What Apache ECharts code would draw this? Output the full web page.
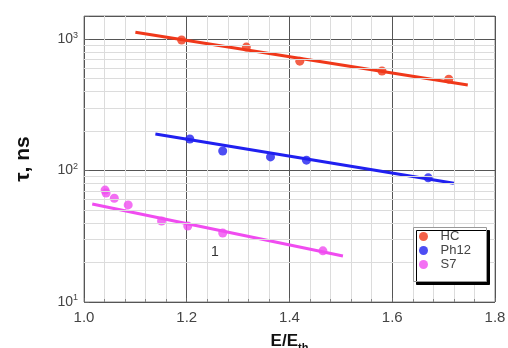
<!DOCTYPE html>
<html>
<head>
<meta charset="utf-8">
<script src="https://cdn.jsdelivr.net/npm/echarts@6/dist/echarts.min.js"></script>
<style>
  html, body { margin: 0; padding: 0; background: #fff; }
  #chart { width: 508px; height: 348px; }
</style>
</head>
<body>
<div id="chart"></div>
<script>
// measured points, E/Eth vs tau (ns)
const hcX = [1.19, 1.316, 1.42, 1.58, 1.71]
const hcY = [985, 870, 680, 572, 496]
const ph12X = [1.206, 1.27, 1.363, 1.433, 1.67]
const ph12Y = [174, 141, 127, 120, 88]
const s7X = [1.041, 1.043, 1.059, 1.086, 1.151, 1.202, 1.27, 1.465]
const s7Y = [71, 67.5, 61.6, 54.8, 41.3, 37.8, 33.5, 24.5]

// fitted lines (end points)
const hcFitX = [1.10, 1.747]
const hcFitY = [1130, 447]
const ph12FitX = [1.139, 1.72]
const ph12FitY = [190, 80]
const s7FitX = [1.016, 1.504]
const s7FitY = [55.6, 22.4]

const xTicks = [1.0, 1.2, 1.4, 1.6, 1.8]
const yDecades = [10, 100, 1000]
const yMinor = [20, 30, 40, 50, 60, 70, 80, 90, 200, 300, 400, 500, 600, 700, 800, 900]

const colors = ['#f0381a', '#2020f0', '#f04cf0']
const names = ['HC', 'Ph12', 'S7']

const pairs = (xs, ys) => xs.map((x, i) => [x, ys[i]])

const pts = [pairs(hcX, hcY), pairs(ph12X, ph12Y), pairs(s7X, s7Y)]
const fits = [pairs(hcFitX, hcFitY), pairs(ph12FitX, ph12FitY), pairs(s7FitX, s7FitY)]

const series = []
// minor log grid lines
series.push({
  type: 'line',
  data: [],
  silent: true,
  markLine: {
    silent: true,
    symbol: 'none',
    label: { show: false },
    lineStyle: { color: '#dcdcdc', type: 'solid', width: 1 },
    data: yMinor.map(v => ({ yAxis: v }))
  },
  z: 1
})
fits.forEach((d, i) => {
  series.push({
    name: names[i] + ' fit',
    type: 'line',
    data: d,
    showSymbol: false,
    lineStyle: { color: colors[i], width: 3 },
    z: 3
  })
})
pts.forEach((d, i) => {
  series.push({
    name: names[i],
    type: 'scatter',
    data: d,
    symbolSize: 9,
    itemStyle: { color: colors[i] },
    z: 4
  })
})

const option = {
  animation: false,
  textStyle: { fontFamily: 'Liberation Sans, Arial, sans-serif' },
  grid: {
    left: 84, right: 13, top: 16, bottom: 46,
    outerBoundsMode: 'none',
    show: true,
    borderColor: '#8a8a8a',
    borderWidth: 1
  },
  legend: {
    data: names,
    orient: 'vertical',
    left: 419,
    top: 230,
    padding: 0,
    itemWidth: 24,
    itemHeight: 9,
    itemGap: 1,
    icon: 'circle',
    z: 20,
    textStyle: { fontSize: 13, color: '#444' }
  },
  xAxis: {
    type: 'value',
    min: 1.0,
    max: 1.8,
    interval: 0.2,
    name: '{a|E/E}{sub|th}',
    nameLocation: 'middle',
    nameGap: 28,
    nameTextStyle: {
      rich: {
        a: { fontSize: 17, fontWeight: 'bold', color: '#111' },
        sub: { fontSize: 11, fontWeight: 'bold', color: '#111', padding: [12, 0, 0, 0] }
      }
    },
    axisLine: { show: false },
    axisTick: { show: true, inside: true, length: 4, lineStyle: { color: '#666' } },
    minorTick: { show: true, splitNumber: 5, length: 3, lineStyle: { color: '#888' } },
    axisLabel: {
      fontSize: 15, color: '#444', margin: 8,
      formatter: v => xTicks.some(t => Math.abs(t - v) < 1e-6) ? v.toFixed(1) : ''
    },
    splitLine: { show: true, lineStyle: { color: '#555', width: 1 } },
    minorSplitLine: { show: true, lineStyle: { color: '#dcdcdc', width: 1 } }
  },
  yAxis: {
    type: 'log',
    logBase: 10,
    min: 10,
    max: 1500,
    name: 'τ, ns',
    nameLocation: 'middle',
    nameRotate: 90,
    nameGap: 50,
    nameTextStyle: { fontSize: 21, fontWeight: 'bold', color: '#111' },
    axisLine: { show: false },
    axisTick: { show: true, inside: true, length: 5, lineStyle: { color: '#666' } },
    axisLabel: {
      color: '#444',
      margin: 6,
      formatter: v => {
        const e = Math.round(Math.log10(v))
        return yDecades.includes(v) || Math.abs(Math.pow(10, e) - v) < 1e-6 ? '{b|10}{s|' + e + '}' : ''
      },
      rich: {
        b: { fontSize: 14, color: '#444' },
        s: { fontSize: 9, color: '#444', padding: [0, 0, 8, 0] }
      }
    },
    splitLine: { show: true, lineStyle: { color: '#555', width: 1 } }
  },
  graphic: [{
    type: 'rect',
    left: 413,
    top: 227,
    shape: { width: 73, height: 54 },
    style: {
      fill: '#fff', stroke: '#999', lineWidth: 1,
      shadowColor: '#000', shadowOffsetX: 3, shadowOffsetY: 3, shadowBlur: 0
    },
    z: 10
  }, {
    type: 'text',
    left: 211,
    top: 245,
    style: { text: '1', fontSize: 14, fill: '#333', fontFamily: 'Liberation Sans, Arial, sans-serif' },
    z: 10
  }],
  series: series
}

const chart = echarts.init(document.getElementById('chart'))
chart.setOption(option)
</script>
</body>
</html>
